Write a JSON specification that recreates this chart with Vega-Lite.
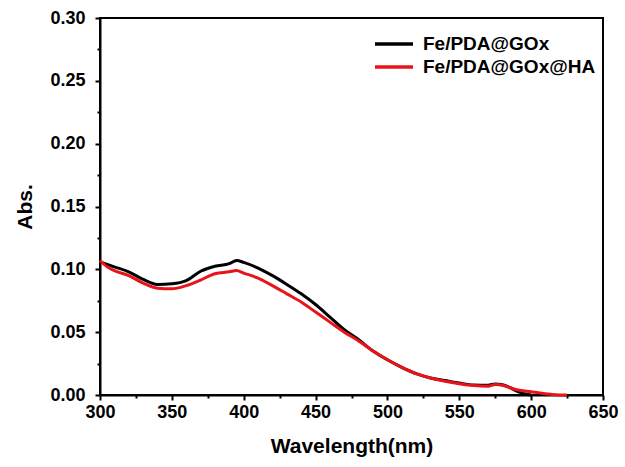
{
  "$schema": "https://vega.github.io/schema/vega-lite/v6.json",
  "width": 503,
  "height": 377,
  "autosize": "none",
  "padding": {"left": 100, "top": 18, "right": 22, "bottom": 72},
  "background": "white",
  "config": {
    "view": {"stroke": "black", "strokeWidth": 2},
    "font": "Liberation Sans"
  },
  "data": {
    "values": [
      {"wl": 300, "abs": 0.106, "series": "Fe/PDA@GOx"},
      {"wl": 305, "abs": 0.104, "series": "Fe/PDA@GOx"},
      {"wl": 310, "abs": 0.102, "series": "Fe/PDA@GOx"},
      {"wl": 320, "abs": 0.098, "series": "Fe/PDA@GOx"},
      {"wl": 330, "abs": 0.092, "series": "Fe/PDA@GOx"},
      {"wl": 340, "abs": 0.088, "series": "Fe/PDA@GOx"},
      {"wl": 350, "abs": 0.0885, "series": "Fe/PDA@GOx"},
      {"wl": 360, "abs": 0.091, "series": "Fe/PDA@GOx"},
      {"wl": 370, "abs": 0.0985, "series": "Fe/PDA@GOx"},
      {"wl": 380, "abs": 0.1025, "series": "Fe/PDA@GOx"},
      {"wl": 390, "abs": 0.1045, "series": "Fe/PDA@GOx"},
      {"wl": 395, "abs": 0.107, "series": "Fe/PDA@GOx"},
      {"wl": 400, "abs": 0.1055, "series": "Fe/PDA@GOx"},
      {"wl": 410, "abs": 0.101, "series": "Fe/PDA@GOx"},
      {"wl": 420, "abs": 0.095, "series": "Fe/PDA@GOx"},
      {"wl": 430, "abs": 0.088, "series": "Fe/PDA@GOx"},
      {"wl": 440, "abs": 0.0805, "series": "Fe/PDA@GOx"},
      {"wl": 450, "abs": 0.072, "series": "Fe/PDA@GOx"},
      {"wl": 460, "abs": 0.062, "series": "Fe/PDA@GOx"},
      {"wl": 470, "abs": 0.052, "series": "Fe/PDA@GOx"},
      {"wl": 480, "abs": 0.044, "series": "Fe/PDA@GOx"},
      {"wl": 490, "abs": 0.035, "series": "Fe/PDA@GOx"},
      {"wl": 500, "abs": 0.028, "series": "Fe/PDA@GOx"},
      {"wl": 510, "abs": 0.022, "series": "Fe/PDA@GOx"},
      {"wl": 520, "abs": 0.017, "series": "Fe/PDA@GOx"},
      {"wl": 530, "abs": 0.0135, "series": "Fe/PDA@GOx"},
      {"wl": 540, "abs": 0.0115, "series": "Fe/PDA@GOx"},
      {"wl": 550, "abs": 0.0095, "series": "Fe/PDA@GOx"},
      {"wl": 560, "abs": 0.008, "series": "Fe/PDA@GOx"},
      {"wl": 570, "abs": 0.0078, "series": "Fe/PDA@GOx"},
      {"wl": 575, "abs": 0.0088, "series": "Fe/PDA@GOx"},
      {"wl": 580, "abs": 0.0082, "series": "Fe/PDA@GOx"},
      {"wl": 585, "abs": 0.006, "series": "Fe/PDA@GOx"},
      {"wl": 590, "abs": 0.003, "series": "Fe/PDA@GOx"},
      {"wl": 595, "abs": 0.001, "series": "Fe/PDA@GOx"},
      {"wl": 600, "abs": 0.0, "series": "Fe/PDA@GOx"},
      {"wl": 300, "abs": 0.107, "series": "Fe/PDA@GOx@HA"},
      {"wl": 305, "abs": 0.102, "series": "Fe/PDA@GOx@HA"},
      {"wl": 310, "abs": 0.099, "series": "Fe/PDA@GOx@HA"},
      {"wl": 320, "abs": 0.095, "series": "Fe/PDA@GOx@HA"},
      {"wl": 330, "abs": 0.089, "series": "Fe/PDA@GOx@HA"},
      {"wl": 340, "abs": 0.085, "series": "Fe/PDA@GOx@HA"},
      {"wl": 350, "abs": 0.0845, "series": "Fe/PDA@GOx@HA"},
      {"wl": 360, "abs": 0.087, "series": "Fe/PDA@GOx@HA"},
      {"wl": 370, "abs": 0.0915, "series": "Fe/PDA@GOx@HA"},
      {"wl": 380, "abs": 0.0965, "series": "Fe/PDA@GOx@HA"},
      {"wl": 390, "abs": 0.098, "series": "Fe/PDA@GOx@HA"},
      {"wl": 395, "abs": 0.099, "series": "Fe/PDA@GOx@HA"},
      {"wl": 400, "abs": 0.097, "series": "Fe/PDA@GOx@HA"},
      {"wl": 410, "abs": 0.093, "series": "Fe/PDA@GOx@HA"},
      {"wl": 420, "abs": 0.087, "series": "Fe/PDA@GOx@HA"},
      {"wl": 430, "abs": 0.0805, "series": "Fe/PDA@GOx@HA"},
      {"wl": 440, "abs": 0.074, "series": "Fe/PDA@GOx@HA"},
      {"wl": 450, "abs": 0.066, "series": "Fe/PDA@GOx@HA"},
      {"wl": 460, "abs": 0.058, "series": "Fe/PDA@GOx@HA"},
      {"wl": 470, "abs": 0.05, "series": "Fe/PDA@GOx@HA"},
      {"wl": 480, "abs": 0.043, "series": "Fe/PDA@GOx@HA"},
      {"wl": 490, "abs": 0.035, "series": "Fe/PDA@GOx@HA"},
      {"wl": 500, "abs": 0.028, "series": "Fe/PDA@GOx@HA"},
      {"wl": 510, "abs": 0.022, "series": "Fe/PDA@GOx@HA"},
      {"wl": 520, "abs": 0.017, "series": "Fe/PDA@GOx@HA"},
      {"wl": 530, "abs": 0.0135, "series": "Fe/PDA@GOx@HA"},
      {"wl": 540, "abs": 0.011, "series": "Fe/PDA@GOx@HA"},
      {"wl": 550, "abs": 0.009, "series": "Fe/PDA@GOx@HA"},
      {"wl": 560, "abs": 0.0075, "series": "Fe/PDA@GOx@HA"},
      {"wl": 570, "abs": 0.007, "series": "Fe/PDA@GOx@HA"},
      {"wl": 575, "abs": 0.0083, "series": "Fe/PDA@GOx@HA"},
      {"wl": 580, "abs": 0.0078, "series": "Fe/PDA@GOx@HA"},
      {"wl": 585, "abs": 0.006, "series": "Fe/PDA@GOx@HA"},
      {"wl": 590, "abs": 0.0042, "series": "Fe/PDA@GOx@HA"},
      {"wl": 600, "abs": 0.0025, "series": "Fe/PDA@GOx@HA"},
      {"wl": 610, "abs": 0.001, "series": "Fe/PDA@GOx@HA"},
      {"wl": 620, "abs": 0.0, "series": "Fe/PDA@GOx@HA"},
      {"wl": 625, "abs": 0.0, "series": "Fe/PDA@GOx@HA"}
    ]
  },
  "mark": {"type": "line", "strokeWidth": 3, "interpolate": "monotone"},
  "encoding": {
    "x": {
      "field": "wl", "type": "quantitative",
      "scale": {"domain": [300, 650], "nice": false, "zero": false},
      "axis": {
        "orient": "bottom",
        "title": "Wavelength(nm)",
        "values": [300, 325, 350, 375, 400, 425, 450, 475, 500, 525, 550, 575, 600, 625, 650],
        "labelExpr": "datum.value % 50 === 0 ? datum.label : ''",
        "grid": false,
        "domainColor": "black", "domainWidth": 2,
        "tickColor": "black", "tickWidth": 2,
        "tickSize": {"condition": {"test": "datum.value % 50 === 0", "value": 5}, "value": 3},
        "labelFont": "Liberation Sans", "labelFontWeight": "bold", "labelFontSize": 18, "labelColor": "black",
        "labelPadding": 3, "labelFlush": false, "labelOverlap": false,
        "titleFont": "Liberation Sans", "titleFontWeight": "bold", "titleFontSize": 21, "titleColor": "black",
        "titlePadding": 14
      }
    },
    "y": {
      "field": "abs", "type": "quantitative",
      "scale": {"domain": [0, 0.3], "nice": false},
      "axis": {
        "orient": "left",
        "title": "Abs.",
        "values": [0, 0.025, 0.05, 0.075, 0.1, 0.125, 0.15, 0.175, 0.2, 0.225, 0.25, 0.275, 0.3],
        "format": ".2f",
        "labelExpr": "round(datum.value * 1000) % 50 === 0 ? datum.label : ''",
        "grid": false,
        "domainColor": "black", "domainWidth": 2,
        "tickColor": "black", "tickWidth": 2,
        "tickSize": {"condition": {"test": "round(datum.value * 1000) % 50 === 0", "value": 5}, "value": 3},
        "labelFont": "Liberation Sans", "labelFontWeight": "bold", "labelFontSize": 18, "labelColor": "black",
        "labelPadding": 10, "labelFlush": false, "labelOverlap": false,
        "titleFont": "Liberation Sans", "titleFontWeight": "bold", "titleFontSize": 21, "titleColor": "black",
        "titlePadding": 14
      }
    },
    "color": {
      "field": "series", "type": "nominal",
      "scale": {"domain": ["Fe/PDA@GOx", "Fe/PDA@GOx@HA"], "range": ["#000000", "#e8141a"]},
      "legend": {
        "title": null,
        "orient": "none",
        "legendX": 273,
        "legendY": 16,
        "padding": 0,
        "symbolType": "stroke",
        "symbolSize": 1444,
        "symbolStrokeWidth": 3.5,
        "clipHeight": 20,
        "rowPadding": 3,
        "labelOffset": 8,
        "labelFont": "Liberation Sans",
        "labelFontWeight": "bold",
        "labelFontSize": 19,
        "labelColor": "black",
        "labelLimit": 300
      }
    }
  }
}
